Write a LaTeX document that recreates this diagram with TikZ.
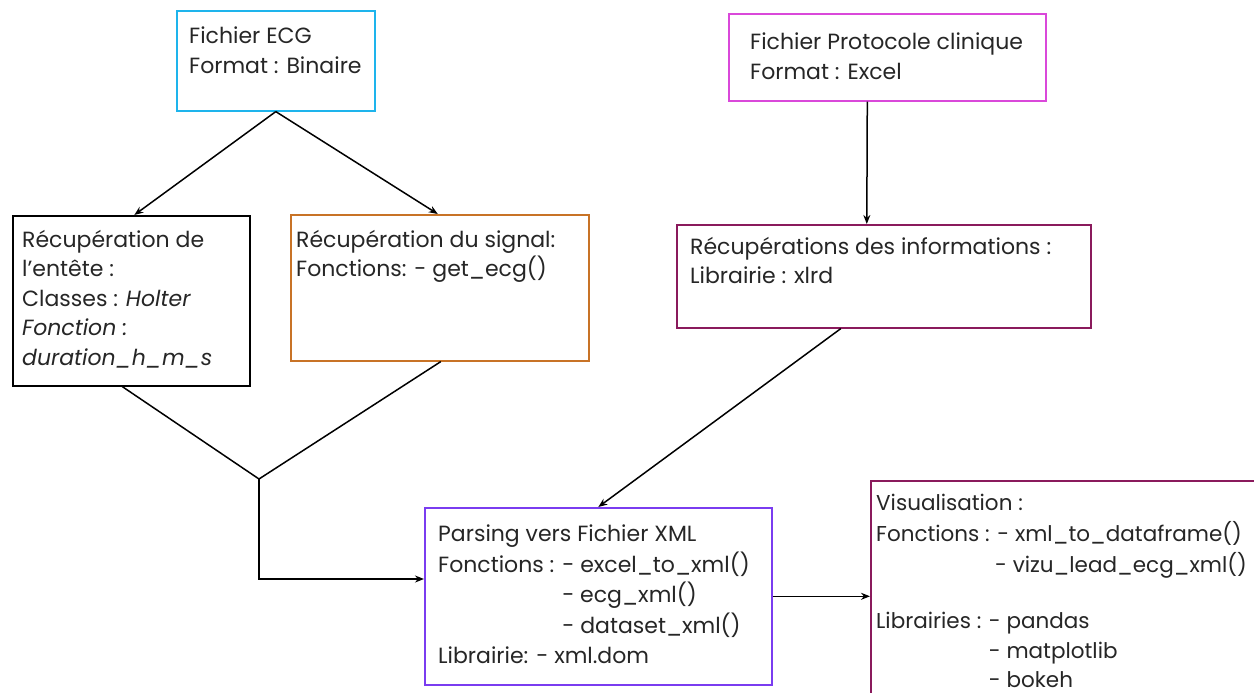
\documentclass[tikz,border=0pt]{standalone}
\usepackage{fontspec}
\setmainfont{Poppins}
\usetikzlibrary{arrows.meta,calc}
\definecolor{ecgc}{RGB}{30,180,236}
\definecolor{protoc}{RGB}{218,72,218}
\definecolor{sigc}{RGB}{200,115,38}
\definecolor{infoc}{RGB}{138,26,92}
\definecolor{parc}{RGB}{122,60,240}
\definecolor{txt}{RGB}{38,38,38}
\tikzset{
  box/.style={draw, line width=1.6pt, minimum width=#1, inner sep=0pt, anchor=north west},
  lbl/.style={anchor=north west, inner sep=0pt, align=left, text=txt,
    font=\fontsize{22}{29.5}\selectfont},
  conn/.style={line width=1.5pt, -{Stealth[length=9pt,width=7pt]}},
  plain/.style={line width=1.5pt}
}
\begin{document}
\begin{tikzpicture}[x=1pt,y=-1pt]
\useasboundingbox[fill=white] (0,0) rectangle (1254,693);
% boxes
\node[box=198pt, minimum height=100pt, draw=ecgc] (ecg) at (176,10) {};
\node[box=317pt, minimum height=87pt, draw=protoc] (proto) at (728,13) {};
\node[box=237pt, minimum height=170pt, draw=black] (ent) at (12,215) {};
\node[box=298pt, minimum height=146pt, draw=sigc] (sig) at (290,214) {};
\node[box=414pt, minimum height=103pt, draw=infoc] (info) at (676,224) {};
\node[box=347pt, minimum height=177pt, draw=parc] (par) at (424,507) {};
\node[box=400pt, minimum height=230pt, draw=infoc] (vis) at (870,480) {};
% texts
\node[lbl] (tecg) at (189,27) {Fichier ECG\\Format : Binaire};
\node[lbl] (tproto) at (750,33) {Fichier Protocole clinique\\Format : Excel};
\node[lbl] (tent) at (22,230) {Récupération de\\l’entête :\\Classes : \textit{Holter}\\\textit{Fonction :}\\\textit{duration\_h\_m\_s}};
\node[lbl] (tsig) at (296,230) {Récupération du signal:\\Fonctions: - get\_ecg()};
\node[lbl] (tinfo) at (690,237) {Récupérations des informations :\\Librairie : xlrd};
\node[lbl, font=\fontsize{22}{30.5}\selectfont] (tpar) at (438,525) {Parsing vers Fichier XML\\Fonctions : - excel\_to\_xml()\\\phantom{Fonctions : }- ecg\_xml()\\\phantom{Fonctions : }- dataset\_xml()\\Librairie: - xml.dom};
\node[lbl, font=\fontsize{21.5}{31}\selectfont] (tvis) at (876,494) {Visualisation :\\Fonctions : - xml\_to\_dataframe()\\\hspace*{119pt}- vizu\_lead\_ecg\_xml()\\[-6pt]\\Librairies : - pandas\\[-1pt]\phantom{Librairies : }- matplotlib\\[-2pt]\phantom{Librairies : }- bokeh};
% connectors
\draw[conn] (ecg.south) -- ([xshift=3pt]ent.north);
\draw[conn] (ecg.south) -- ([xshift=-2pt]sig.north);
\draw[conn] ([xshift=-20pt]proto.south) -- ([xshift=-17pt]info.north);
\coordinate (j) at (259,479);
\coordinate (k) at (259,579);
\draw[plain] ([xshift=-9pt]ent.south) -- (j);
\draw[plain] ([xshift=1pt]sig.south) -- (j);
\draw[conn] (j) -- (k) -- (k -| par.west);
\draw[conn] ([xshift=-43pt]info.south) -- (par.north);
\draw[conn] (par.east) -- (par.east -| vis.west);
\end{tikzpicture}
\end{document}
